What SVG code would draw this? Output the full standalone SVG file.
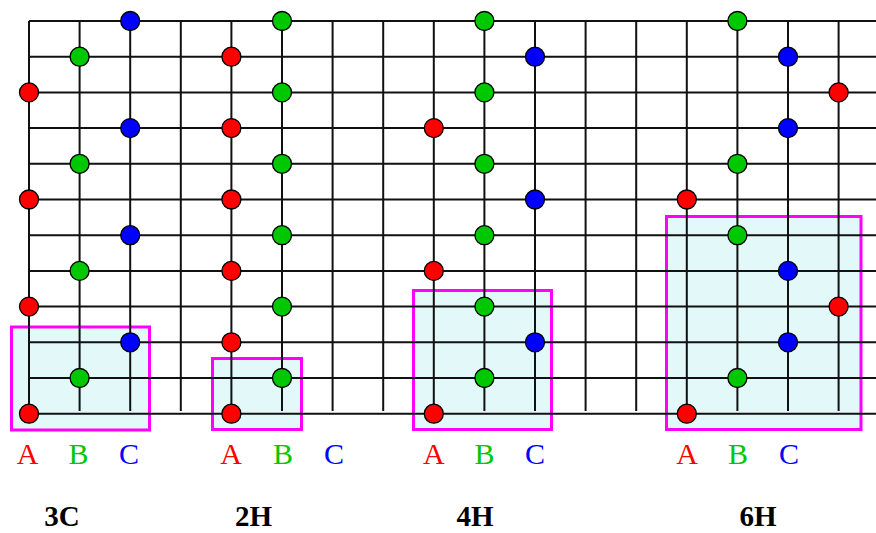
<svg xmlns="http://www.w3.org/2000/svg" width="876" height="533" viewBox="0 0 876 533">
<style>
.box{fill:#e2f8f9;stroke:#ff00ff;stroke-width:3}
.g{stroke:#111;stroke-width:2;fill:none}
.dot{stroke:#000;stroke-width:1.3}
.r{fill:#ff0000}.gr{fill:#00c800}.b{fill:#0000ff}
.lab{font-family:"Liberation Serif",serif;font-size:30px;text-anchor:middle}
.ttl{font-family:"Liberation Serif",serif;font-size:29px;font-weight:bold;text-anchor:middle;fill:#000}
</style>
<rect width="876" height="533" fill="#fff"/>
<g id="boxes">
<rect id="box-3C" class="box" x="11.5" y="327" width="138" height="103"/>
<rect id="box-2H" class="box" x="212.5" y="358.5" width="89" height="71"/>
<rect id="box-4H" class="box" x="413.5" y="290.5" width="138" height="139"/>
<rect id="box-6H" class="box" x="666.5" y="216.5" width="194.5" height="213"/>
</g>
<g id="connectors" class="g">
<path d="M29 21H876M29 56.7H876M29 92.4H876M29 128.1H876M29 163.8H876M29 199.5H876M29 235.2H876M29 270.9H876M29 306.6H876M29 342.3H876M29 378H876M29 413.7H876"/>
<path d="M29 21V413.7M79.6 21V411M130.2 21V411M180.8 21V411M231.4 21V411M282 21V411M332.6 21V411M383.2 21V411M433.8 21V411M484.4 21V411M535 21V411M585.6 21V411M636.2 21V411M686.8 21V411M737.4 21V411M788 21V411M838.6 21V411"/>
</g>
<g id="stack-3C">
<circle id="n3c-0" class="dot b" cx="130.2" cy="21" r="9.5"/>
<circle id="n3c-1" class="dot gr" cx="79.6" cy="56.7" r="9.5"/>
<circle id="n3c-2" class="dot r" cx="29" cy="92.4" r="9.5"/>
<circle id="n3c-3" class="dot b" cx="130.2" cy="128.1" r="9.5"/>
<circle id="n3c-4" class="dot gr" cx="79.6" cy="163.8" r="9.5"/>
<circle id="n3c-5" class="dot r" cx="29" cy="199.5" r="9.5"/>
<circle id="n3c-6" class="dot b" cx="130.2" cy="235.2" r="9.5"/>
<circle id="n3c-7" class="dot gr" cx="79.6" cy="270.9" r="9.5"/>
<circle id="n3c-8" class="dot r" cx="29" cy="306.6" r="9.5"/>
<circle id="n3c-9" class="dot b" cx="130.2" cy="342.3" r="9.5"/>
<circle id="n3c-10" class="dot gr" cx="79.6" cy="378" r="9.5"/>
<circle id="n3c-11" class="dot r" cx="29" cy="413.7" r="9.5"/>
</g>
<g id="stack-2H">
<circle id="n2h-0" class="dot gr" cx="282" cy="21" r="9.5"/>
<circle id="n2h-1" class="dot r" cx="231.4" cy="56.7" r="9.5"/>
<circle id="n2h-2" class="dot gr" cx="282" cy="92.4" r="9.5"/>
<circle id="n2h-3" class="dot r" cx="231.4" cy="128.1" r="9.5"/>
<circle id="n2h-4" class="dot gr" cx="282" cy="163.8" r="9.5"/>
<circle id="n2h-5" class="dot r" cx="231.4" cy="199.5" r="9.5"/>
<circle id="n2h-6" class="dot gr" cx="282" cy="235.2" r="9.5"/>
<circle id="n2h-7" class="dot r" cx="231.4" cy="270.9" r="9.5"/>
<circle id="n2h-8" class="dot gr" cx="282" cy="306.6" r="9.5"/>
<circle id="n2h-9" class="dot r" cx="231.4" cy="342.3" r="9.5"/>
<circle id="n2h-10" class="dot gr" cx="282" cy="378" r="9.5"/>
<circle id="n2h-11" class="dot r" cx="231.4" cy="413.7" r="9.5"/>
</g>
<g id="stack-4H">
<circle id="n4h-0" class="dot gr" cx="484.4" cy="21" r="9.5"/>
<circle id="n4h-1" class="dot b" cx="535" cy="56.7" r="9.5"/>
<circle id="n4h-2" class="dot gr" cx="484.4" cy="92.4" r="9.5"/>
<circle id="n4h-3" class="dot r" cx="433.8" cy="128.1" r="9.5"/>
<circle id="n4h-4" class="dot gr" cx="484.4" cy="163.8" r="9.5"/>
<circle id="n4h-5" class="dot b" cx="535" cy="199.5" r="9.5"/>
<circle id="n4h-6" class="dot gr" cx="484.4" cy="235.2" r="9.5"/>
<circle id="n4h-7" class="dot r" cx="433.8" cy="270.9" r="9.5"/>
<circle id="n4h-8" class="dot gr" cx="484.4" cy="306.6" r="9.5"/>
<circle id="n4h-9" class="dot b" cx="535" cy="342.3" r="9.5"/>
<circle id="n4h-10" class="dot gr" cx="484.4" cy="378" r="9.5"/>
<circle id="n4h-11" class="dot r" cx="433.8" cy="413.7" r="9.5"/>
</g>
<g id="stack-6H">
<circle id="n6h-0" class="dot gr" cx="737.4" cy="21" r="9.5"/>
<circle id="n6h-1" class="dot b" cx="788" cy="56.7" r="9.5"/>
<circle id="n6h-2" class="dot r" cx="838.6" cy="92.4" r="9.5"/>
<circle id="n6h-3" class="dot b" cx="788" cy="128.1" r="9.5"/>
<circle id="n6h-4" class="dot gr" cx="737.4" cy="163.8" r="9.5"/>
<circle id="n6h-5" class="dot r" cx="686.8" cy="199.5" r="9.5"/>
<circle id="n6h-6" class="dot gr" cx="737.4" cy="235.2" r="9.5"/>
<circle id="n6h-7" class="dot b" cx="788" cy="270.9" r="9.5"/>
<circle id="n6h-8" class="dot r" cx="838.6" cy="306.6" r="9.5"/>
<circle id="n6h-9" class="dot b" cx="788" cy="342.3" r="9.5"/>
<circle id="n6h-10" class="dot gr" cx="737.4" cy="378" r="9.5"/>
<circle id="n6h-11" class="dot r" cx="686.8" cy="413.7" r="9.5"/>
</g>
<g id="labels">
<text class="lab" x="27.5" y="464" fill="#ff0000">A</text>
<text class="lab" x="78.5" y="464" fill="#00c800">B</text>
<text class="lab" x="129" y="464" fill="#0000ff">C</text>
<text class="lab" x="231" y="464" fill="#ff0000">A</text>
<text class="lab" x="283" y="464" fill="#00c800">B</text>
<text class="lab" x="334" y="464" fill="#0000ff">C</text>
<text class="lab" x="433.8" y="464" fill="#ff0000">A</text>
<text class="lab" x="484.4" y="464" fill="#00c800">B</text>
<text class="lab" x="535" y="464" fill="#0000ff">C</text>
<text class="lab" x="687" y="464" fill="#ff0000">A</text>
<text class="lab" x="738" y="464" fill="#00c800">B</text>
<text class="lab" x="789" y="464" fill="#0000ff">C</text>
</g>
<g id="titles">
<text class="ttl" x="62" y="526">3C</text>
<text class="ttl" x="253.5" y="526">2H</text>
<text class="ttl" x="475" y="526">4H</text>
<text class="ttl" x="758" y="526">6H</text>
</g>
</svg>
